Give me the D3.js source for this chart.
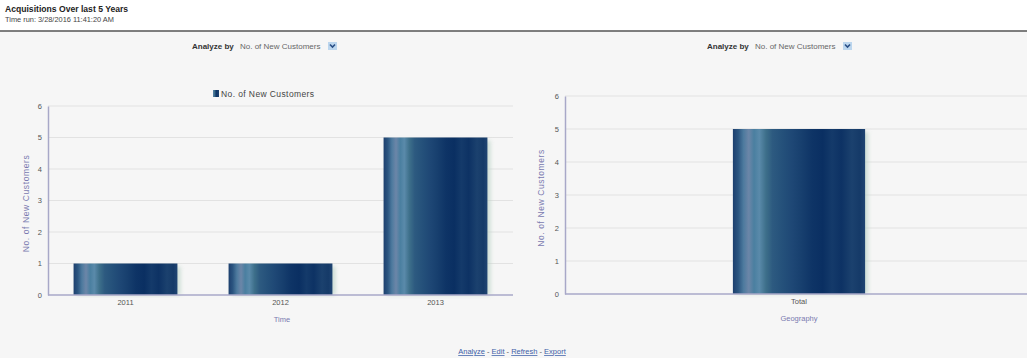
<!DOCTYPE html>
<html>
<head>
<meta charset="utf-8">
<title>Acquisitions Over last 5 Years</title>
<script src="https://cdn.jsdelivr.net/npm/d3@7"></script>
<style>
  body { margin:0; background:#f6f6f6; font-family:"DejaVu Sans", Arial, sans-serif; }
  svg { display:block; }
</style>
</head>
<body>
<script>
// chart data
var timeCats = ["2011", "2012", "2013"];
var timeValues = [1, 1, 5];
var geoCats = ["Total"];
var geoValues = [5];
var yTicks = [0, 1, 2, 3, 4, 5, 6];
var seriesName = "No. of New Customers";

var W = 1027, H = 358;
var FONT = "Liberation Sans, Arial";
var svg = d3.select("body").append("svg").attr("width", W).attr("height", H);

// header
svg.append("rect").attr("x", 0).attr("y", 0).attr("width", W).attr("height", 31).attr("fill", "#ffffff");
svg.append("text").attr("x", 5).attr("y", 12).text("Acquisitions Over last 5 Years")
  .style("font-family", FONT).style("font-weight", "bold").style("font-size", "8.6px").attr("fill", "#222");
svg.append("text").attr("x", 5).attr("y", 22).text("Time run: 3/28/2016 11:41:20 AM")
  .style("font-family", FONT).style("font-size", "7.4px").attr("fill", "#444");
svg.append("line").attr("x1", 0).attr("x2", W).attr("y1", 31).attr("y2", 31).attr("stroke", "#555").attr("stroke-width", 1.5);

// bar gradient (stripes)
var defs = svg.append("defs");
var grad = defs.append("linearGradient").attr("id", "barGrad").attr("x1", "0%").attr("x2", "100%").attr("y1", "0%").attr("y2", "0%");
var stops = [[0, "#1d3f6e"], [0.04, "#2b5580"], [0.08, "#4d7a9e"], [0.12, "#6c86a8"], [0.16, "#4a7fa0"], [0.2, "#5a8aaa"],
  [0.25, "#3d6f8a"], [0.3, "#2d5a80"], [0.38, "#24507a"], [0.45, "#1e4775"], [0.52, "#173f6e"], [0.6, "#0e3466"],
  [0.68, "#0a2f62"], [0.75, "#143a6a"], [0.82, "#0d3264"], [0.9, "#1b416e"], [0.96, "#153a68"], [1, "#1f4472"]];
stops.forEach(function(s){ grad.append("stop").attr("offset", s[0]).attr("stop-color", s[1]); });
defs.append("filter").attr("id", "shadow").append("feGaussianBlur").attr("stdDeviation", 2);

function analyzeBy(cx, y) {
  var g = svg.append("g").attr("transform", "translate(" + cx + "," + y + ")");
  g.append("text").attr("x", -68).attr("y", 0).text("Analyze by").style("font-family", FONT)
    .style("font-weight", "bold").style("font-size", "8px").attr("fill", "#333");
  g.append("text").attr("x", -20).attr("y", 0).text(seriesName).style("font-family", FONT)
    .style("font-size", "8px").attr("fill", "#666");
  g.append("rect").attr("x", 68).attr("y", -7).attr("width", 9).attr("height", 8).attr("fill", "#bcd6ee");
  g.append("path").attr("d", "M70,-4.5 L72.5,-2 L75,-4.5").attr("stroke", "#2a4f86").attr("stroke-width", 1.6).attr("fill", "none");
}

function drawChart(opts) {
  var x = d3.scaleBand().domain(opts.cats).range([opts.left, opts.right]).paddingInner(opts.padIn).paddingOuter(opts.padOut);
  var y = d3.scaleLinear().domain([0, 6]).range([opts.bottom, opts.top]);
  var g = svg.append("g");

  // grid
  g.selectAll(".grid").data(yTicks.slice(1)).enter().append("line")
    .attr("x1", opts.left).attr("x2", opts.right).attr("y1", function(d){ return y(d); }).attr("y2", function(d){ return y(d); })
    .attr("stroke", "#e2e2e2").attr("stroke-width", 1);

  // shadows + bars
  g.selectAll(".sh").data(opts.vals).enter().append("rect")
    .attr("x", function(d, i){ return x(opts.cats[i]) + 3; })
    .attr("y", function(d){ return y(d) + 3; })
    .attr("width", x.bandwidth()).attr("height", function(d){ return opts.bottom - y(d) - 3; })
    .attr("fill", "#b9d2c6").attr("opacity", 0.7).attr("filter", "url(#shadow)");
  g.selectAll(".bar").data(opts.vals).enter().append("rect")
    .attr("x", function(d, i){ return x(opts.cats[i]); })
    .attr("y", function(d){ return y(d); })
    .attr("width", x.bandwidth()).attr("height", function(d){ return opts.bottom - y(d); })
    .attr("fill", "url(#barGrad)");

  // axes
  var ya = g.append("g").attr("transform", "translate(" + opts.left + ",0)")
    .call(d3.axisLeft(y).tickValues(yTicks).tickFormat(d3.format("d")).tickSize(0).tickPadding(6));
  ya.select(".domain").attr("stroke", "#a8a8c8").attr("stroke-width", 1.5);
  ya.selectAll("text").style("font-family", FONT).style("font-size", "7.5px").attr("fill", "#555");

  var xa = g.append("g").attr("transform", "translate(0," + opts.bottom + ")")
    .call(d3.axisBottom(x).tickSize(0).tickPadding(5));
  xa.select(".domain").attr("d", "M" + opts.left + ",0H" + opts.right).attr("stroke", "#a8a8c8").attr("stroke-width", 1.5);
  xa.selectAll("text").style("font-family", FONT).style("font-size", "7.5px").attr("fill", "#555");

  g.append("text").attr("transform", "translate(" + opts.ytitleX + "," + ((opts.top + opts.bottom) / 2 + 3) + ") rotate(-90)")
    .attr("text-anchor", "middle").text(seriesName).style("font-family", FONT)
    .style("font-size", "8.5px").style("letter-spacing", "0.6px").attr("fill", "#7a7ab0");
  g.append("text").attr("x", opts.xtitleX).attr("y", opts.bottom + 27).attr("text-anchor", "middle")
    .text(opts.xtitle).style("font-family", FONT).style("font-size", "7.5px").attr("fill", "#7a7ab0");
}

analyzeBy(260, 49);
analyzeBy(775, 49);

// legend on left chart
svg.append("rect").attr("x", 213).attr("y", 90).attr("width", 6).attr("height", 7).attr("fill", "url(#barGrad)");
svg.append("text").attr("x", 221).attr("y", 96.5).text(seriesName).style("font-family", FONT)
  .style("font-size", "8.5px").style("letter-spacing", "0.4px").attr("fill", "#444");

drawChart({ cats: timeCats, vals: timeValues, left: 48, right: 513, top: 106, bottom: 295,
  padIn: 0.33, padOut: 0.165, ytitleX: 29, xtitle: "Time", xtitleX: 282 });
drawChart({ cats: geoCats, vals: geoValues, left: 565, right: 1033, top: 96, bottom: 294,
  padIn: 0, padOut: 1.27, ytitleX: 544, xtitle: "Geography", xtitleX: 799 });

// footer links
var links = ["Analyze", "Edit", "Refresh", "Export"];
var foot = svg.append("text").attr("x", 512).attr("y", 354).attr("text-anchor", "middle")
  .style("font-family", FONT).style("font-size", "7.5px");
links.forEach(function(l, i){
  if (i > 0) foot.append("tspan").text(" - ").attr("fill", "#555");
  foot.append("tspan").text(l).attr("fill", "#3d5fa8").style("text-decoration", "underline");
});
</script>
</body>
</html>
